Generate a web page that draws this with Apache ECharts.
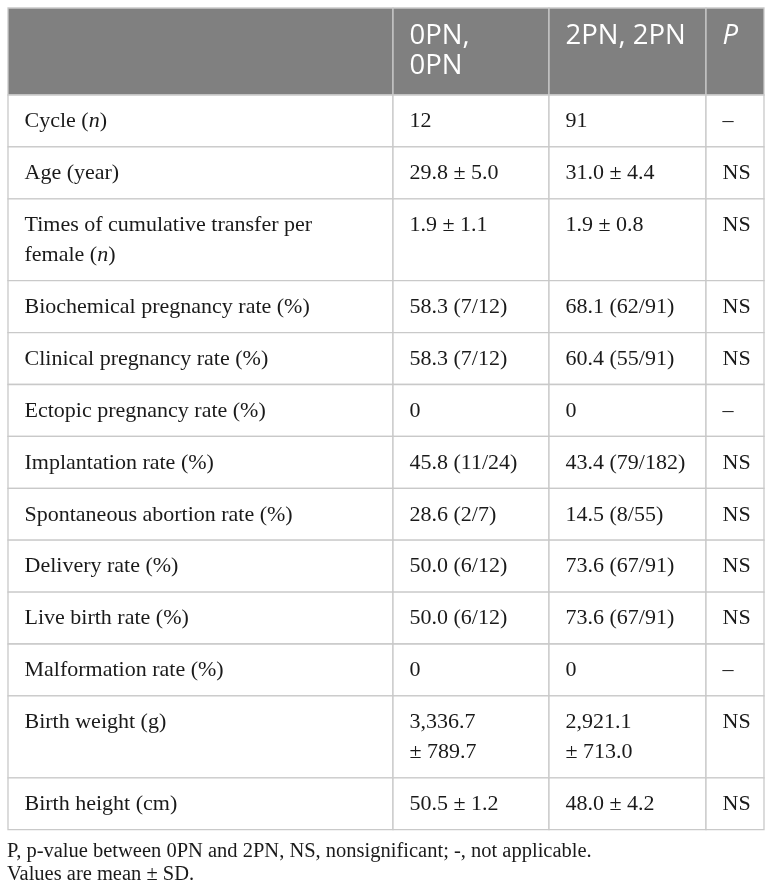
<!DOCTYPE html>
<html><head><meta charset="utf-8">
<script src="https://cdn.jsdelivr.net/npm/echarts@6/dist/echarts.min.js"></script>
<style>html,body{margin:0;padding:0;background:#fff}#c{width:772px;height:893px}</style>
</head><body><div id="c"></div>
<script>
// ---- table content ----
const headers = ['', '0PN,\n0PN', '2PN, 2PN', '{i|P}'];
const rowLabels = [
  'Cycle ({i|n})',
  'Age (year)',
  'Times of cumulative transfer per\nfemale ({i|n})',
  'Biochemical pregnancy rate (%)',
  'Clinical pregnancy rate (%)',
  'Ectopic pregnancy rate (%)',
  'Implantation rate (%)',
  'Spontaneous abortion rate (%)',
  'Delivery rate (%)',
  'Live birth rate (%)',
  'Malformation rate (%)',
  'Birth weight (g)',
  'Birth height (cm)'
];
const group0PN = ['12', '29.8 ± 5.0', '1.9 ± 1.1', '58.3 (7/12)', '58.3 (7/12)', '0', '45.8 (11/24)', '28.6 (2/7)', '50.0 (6/12)', '50.0 (6/12)', '0', '3,336.7\n± 789.7', '50.5 ± 1.2'];
const group2PN = ['91', '31.0 ± 4.4', '1.9 ± 0.8', '68.1 (62/91)', '60.4 (55/91)', '0', '43.4 (79/182)', '14.5 (8/55)', '73.6 (67/91)', '73.6 (67/91)', '0', '2,921.1\n± 713.0', '48.0 ± 4.2'];
const pValues = ['–', 'NS', 'NS', 'NS', 'NS', '–', 'NS', 'NS', 'NS', 'NS', '–', 'NS', 'NS'];
const footnotes = ['P, p-value between 0PN and 2PN, NS, nonsignificant; -, not applicable.', 'Values are mean ± SD.'];

// ---- layout (pixels) ----
const W = 772, H = 893;
const colEdges = [8, 393, 549, 706, 764];
const tableTop = 8, headerH = 87, singleH = 51.9, lineStep = 30;
const padX = 16.5;

const bodyCols = [rowLabels, group0PN, group2PN, pValues];
const tableRows = [headers].concat(rowLabels.map((_, i) => bodyCols.map(col => col[i])));
const rowH = tableRows.map((row, r) => {
  if (r === 0) return headerH;
  const lines = Math.max.apply(null, row.map(t => t.split('\n').length));
  return singleH + (lines - 1) * lineStep;
});
const rowTop = [];
rowH.reduce((acc, h, i) => { rowTop[i] = acc; return acc + h; }, tableTop);
const tableBottom = rowTop[rowTop.length - 1] + rowH[rowH.length - 1];

const cellData = [];
tableRows.forEach((row, r) => row.forEach((t, c) => cellData.push([r, c])));

const serif = '"Liberation Serif", "Times New Roman", serif';
const sans = '"Open Sans", "Noto Sans", sans-serif';

const chart = echarts.init(document.getElementById('c'), null, {renderer: 'canvas'});
chart.setOption({
  animation: false,
  backgroundColor: '#fff',
  grid: {left: 0, right: 0, top: 0, bottom: 0, containLabel: false},
  xAxis: {type: 'value', min: 0, max: W, show: false},
  yAxis: {type: 'value', min: 0, max: H, inverse: true, show: false},
  series: [{
    type: 'custom',
    silent: true,
    clip: false,
    data: cellData,
    renderItem: function (params, api) {
      const r = api.value(0), c = api.value(1);
      const isHead = r === 0;
      const p0 = api.coord([colEdges[c], rowTop[r]]);
      const p1 = api.coord([colEdges[c + 1], rowTop[r] + rowH[r]]);
      const txt = tableRows[r][c];
      return {
        type: 'group',
        children: [{
          type: 'rect',
          shape: {x: p0[0], y: p0[1], width: p1[0] - p0[0], height: p1[1] - p0[1]},
          style: {fill: isHead ? '#808080' : '#ffffff', stroke: '#c9c9c9', lineWidth: 1.3}
        }, {
          type: 'text',
          x: p0[0] + padX,
          y: p0[1] + (isHead ? 13 : 11.5),
          style: {
            text: txt,
            fill: isHead ? '#ffffff' : '#1a1a1a',
            fontFamily: isHead ? sans : serif,
            fontSize: isHead ? 27.5 : 22,
            lineHeight: lineStep,
            align: 'left',
            verticalAlign: 'top',
            rich: {
              i: {
                fontStyle: 'italic',
                fontFamily: isHead ? sans : serif,
                fontSize: isHead ? 27.5 : 22,
                lineHeight: lineStep,
                fill: isHead ? '#ffffff' : '#1a1a1a'
              }
            }
          }
        }]
      };
    }
  }],
  graphic: footnotes.map((t, i) => ({
    type: 'text',
    left: 7,
    top: tableBottom + 11 + i * 22.5,
    silent: true,
    style: {
      text: t,
      fill: '#1a1a1a',
      fontFamily: serif,
      fontSize: 20.5,
      lineHeight: 22.5
    }
  }))
});
</script>
</body></html>
